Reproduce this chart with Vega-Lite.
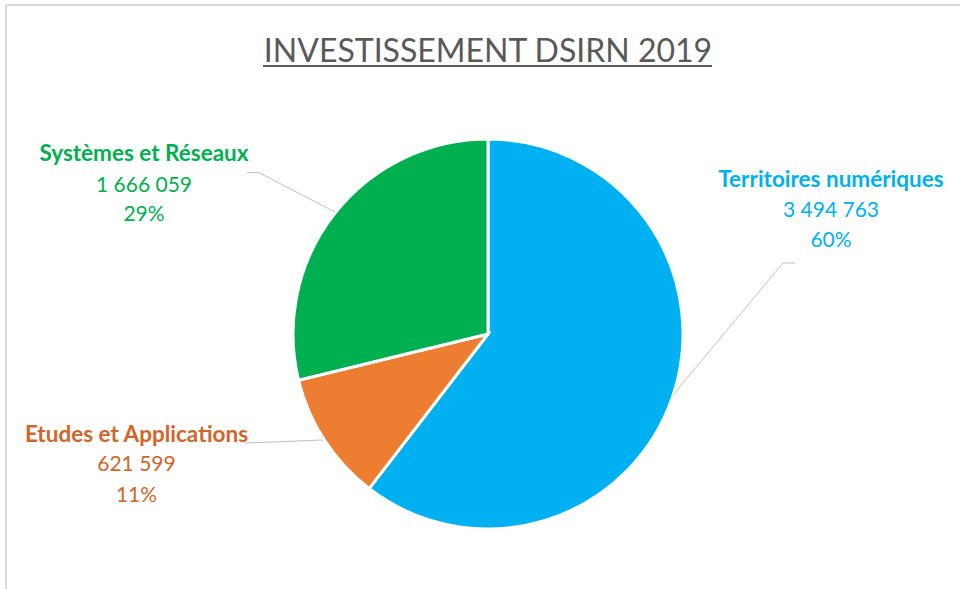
{
  "$schema": "https://vega.github.io/schema/vega-lite/v6.json",
  "width": 960,
  "height": 589,
  "autosize": "none",
  "padding": 0,
  "background": "white",
  "config": {
    "view": {"stroke": null},
    "locale": {"number": {"decimal": ",", "thousands": " ", "grouping": [3], "currency": ["", " €"]}}
  },
  "datasets": {
    "parts": [
      {"categorie": "Territoires numériques", "montant": 3494763, "part": 0.60, "rang": 1},
      {"categorie": "Etudes et Applications", "montant": 621599, "part": 0.11, "rang": 2},
      {"categorie": "Systèmes et Réseaux", "montant": 1666059, "part": 0.29, "rang": 3}
    ],
    "one": [{}]
  },
  "data": {"name": "parts"},
  "layer": [
    {
      "data": {"name": "one"},
      "mark": {"type": "rule", "color": "#D9D9D9", "strokeWidth": 2},
      "encoding": {
        "x": {"datum": -2.4718, "type": "quantitative", "axis": null, "scale": {"domain": [-2.50256, 2.42051], "nice": false, "zero": false}},
        "x2": {"datum": 2.42051},
        "y": {"datum": 1.6872, "type": "quantitative", "axis": null, "scale": {"domain": [-1.30769, 1.71282], "nice": false, "zero": false}}
      }
    },
    {
      "data": {"name": "one"},
      "mark": {"type": "rule", "color": "#D9D9D9", "strokeWidth": 2},
      "encoding": {
        "x": {"datum": -2.4718, "type": "quantitative"},
        "y": {"datum": 1.6872, "type": "quantitative"},
        "y2": {"datum": -1.30769}
      }
    },
    {
      "mark": {"type": "arc", "radius": 195, "stroke": "white", "strokeWidth": 3},
      "encoding": {
        "theta": {"field": "montant", "type": "quantitative", "stack": true},
        "order": {"field": "rang", "type": "quantitative"},
        "color": {
          "field": "categorie", "type": "nominal", "legend": null,
          "scale": {"domain": ["Territoires numériques", "Etudes et Applications", "Systèmes et Réseaux"], "range": ["#00B0F0", "#ED7D31", "#00B050"]}
        },
        "x": {"datum": 0, "type": "quantitative"},
        "y": {"datum": 0, "type": "quantitative"}
      }
    },
    {
      "data": {"name": "one"},
      "mark": {"type": "rule", "color": "#BFBFBF", "strokeWidth": 1},
      "encoding": {"x": {"datum": 0.9487, "type": "quantitative"}, "y": {"datum": -0.3128, "type": "quantitative"}, "x2": {"datum": 1.5128}, "y2": {"datum": 0.3641}}
    },
    {
      "data": {"name": "one"},
      "mark": {"type": "rule", "color": "#BFBFBF", "strokeWidth": 1},
      "encoding": {"x": {"datum": 1.5128, "type": "quantitative"}, "y": {"datum": 0.3641, "type": "quantitative"}, "x2": {"datum": 1.5744}, "y2": {"datum": 0.3641}}
    },
    {
      "data": {"name": "one"},
      "mark": {"type": "rule", "color": "#BFBFBF", "strokeWidth": 1},
      "encoding": {"x": {"datum": -0.7846, "type": "quantitative"}, "y": {"datum": 0.6256, "type": "quantitative"}, "x2": {"datum": -1.1744}, "y2": {"datum": 0.8272}}
    },
    {
      "data": {"name": "one"},
      "mark": {"type": "rule", "color": "#BFBFBF", "strokeWidth": 1},
      "encoding": {"x": {"datum": -1.1744, "type": "quantitative"}, "y": {"datum": 0.8272, "type": "quantitative"}, "x2": {"datum": -1.2359}, "y2": {"datum": 0.8272}}
    },
    {
      "data": {"name": "one"},
      "mark": {"type": "rule", "color": "#BFBFBF", "strokeWidth": 1},
      "encoding": {"x": {"datum": -0.8462, "type": "quantitative"}, "y": {"datum": -0.5436, "type": "quantitative"}, "x2": {"datum": -1.2462}, "y2": {"datum": -0.5590}}
    },
    {
      "data": {"name": "one"},
      "mark": {"type": "text", "font": "Lato", "fontSize": 32, "color": "#595959", "align": "center", "baseline": "alphabetic", "text": "INVESTISSEMENT DSIRN 2019"},
      "encoding": {"x": {"datum": 0, "type": "quantitative"}, "y": {"datum": 1.3974, "type": "quantitative"}}
    },
    {
      "data": {"name": "one"},
      "mark": {"type": "rule", "color": "#595959", "strokeWidth": 2},
      "encoding": {"x": {"datum": -1.1538, "type": "quantitative"}, "x2": {"datum": 1.1487}, "y": {"datum": 1.3744, "type": "quantitative"}}
    },
    {
      "transform": [{"filter": "datum.rang === 1"}],
      "mark": {"type": "text", "font": "Lato", "fontSize": 22.5, "fontWeight": "bold", "color": "#00B0F0", "align": "center", "baseline": "alphabetic"},
      "encoding": {"text": {"field": "categorie"}, "x": {"datum": 1.759, "type": "quantitative"}, "y": {"datum": 0.7538, "type": "quantitative"}}
    },
    {
      "transform": [{"filter": "datum.rang === 1"}],
      "mark": {"type": "text", "font": "Lato", "fontSize": 21, "color": "#00B0F0", "align": "center", "baseline": "alphabetic"},
      "encoding": {"text": {"field": "montant", "type": "quantitative", "format": ",d"}, "x": {"datum": 1.759, "type": "quantitative"}, "y": {"datum": 0.6, "type": "quantitative"}}
    },
    {
      "transform": [{"filter": "datum.rang === 1"}],
      "mark": {"type": "text", "font": "Lato", "fontSize": 21, "color": "#00B0F0", "align": "center", "baseline": "alphabetic"},
      "encoding": {"text": {"field": "part", "type": "quantitative", "format": ".0%"}, "x": {"datum": 1.759, "type": "quantitative"}, "y": {"datum": 0.4462, "type": "quantitative"}}
    },
    {
      "transform": [{"filter": "datum.rang === 2"}],
      "mark": {"type": "text", "font": "Lato", "fontSize": 22.5, "fontWeight": "bold", "color": "#D0662A", "align": "center", "baseline": "alphabetic"},
      "encoding": {"text": {"field": "categorie"}, "x": {"datum": -1.8026, "type": "quantitative"}, "y": {"datum": -0.5513, "type": "quantitative"}}
    },
    {
      "transform": [{"filter": "datum.rang === 2"}],
      "mark": {"type": "text", "font": "Lato", "fontSize": 21, "color": "#D0662A", "align": "center", "baseline": "alphabetic"},
      "encoding": {"text": {"field": "montant", "type": "quantitative", "format": ",d"}, "x": {"datum": -1.8026, "type": "quantitative"}, "y": {"datum": -0.7051, "type": "quantitative"}}
    },
    {
      "transform": [{"filter": "datum.rang === 2"}],
      "mark": {"type": "text", "font": "Lato", "fontSize": 21, "color": "#D0662A", "align": "center", "baseline": "alphabetic"},
      "encoding": {"text": {"field": "part", "type": "quantitative", "format": ".0%"}, "x": {"datum": -1.8026, "type": "quantitative"}, "y": {"datum": -0.859, "type": "quantitative"}}
    },
    {
      "transform": [{"filter": "datum.rang === 3"}],
      "mark": {"type": "text", "font": "Lato", "fontSize": 22.5, "fontWeight": "bold", "color": "#00B050", "align": "center", "baseline": "alphabetic"},
      "encoding": {"text": {"field": "categorie"}, "x": {"datum": -1.7641, "type": "quantitative"}, "y": {"datum": 0.8887, "type": "quantitative"}}
    },
    {
      "transform": [{"filter": "datum.rang === 3"}],
      "mark": {"type": "text", "font": "Lato", "fontSize": 21, "color": "#00B050", "align": "center", "baseline": "alphabetic"},
      "encoding": {"text": {"field": "montant", "type": "quantitative", "format": ",d"}, "x": {"datum": -1.7641, "type": "quantitative"}, "y": {"datum": 0.7297, "type": "quantitative"}}
    },
    {
      "transform": [{"filter": "datum.rang === 3"}],
      "mark": {"type": "text", "font": "Lato", "fontSize": 21, "color": "#00B050", "align": "center", "baseline": "alphabetic"},
      "encoding": {"text": {"field": "part", "type": "quantitative", "format": ".0%"}, "x": {"datum": -1.7641, "type": "quantitative"}, "y": {"datum": 0.5795, "type": "quantitative"}}
    }
  ]
}
